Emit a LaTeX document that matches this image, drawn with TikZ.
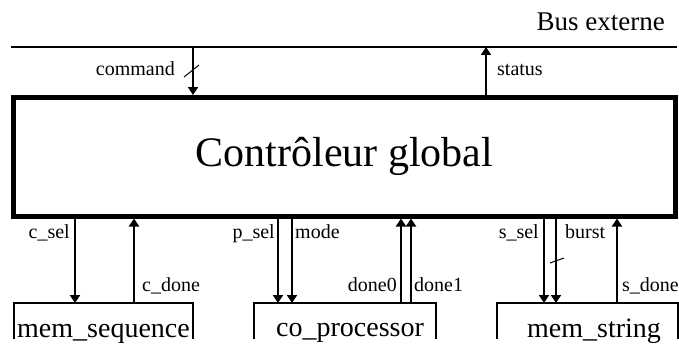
\documentclass[tikz,border=0pt]{standalone}
\usepackage{fontspec}
\setmainfont{Liberation Serif}
\usetikzlibrary{arrows.meta}

\begin{document}
\begin{tikzpicture}[x=1pt,y=-1pt,>={Triangle[length=8pt,width=10pt]},
    sig/.style={->,line width=2pt},
    lbl/.style={inner sep=0pt,font=\fontsize{20}{22}\selectfont},
    unit/.style={inner sep=0pt,outer sep=0pt,minimum height=36pt},
    unitlbl/.style={inner sep=0pt,anchor=base,font=\fontsize{28}{30}\selectfont},
    frame/.style={line width=2pt}]
    \useasboundingbox (0,0) rectangle (679,345);
    % external bus and global controller
    \coordinate (busL) at (11,47); \coordinate (busR) at (677,47);
    \draw[frame] (busL) -- (busR);
    \node[inner sep=0pt,anchor=base east,font=\fontsize{27}{30}\selectfont] (bus) at (665,31) {Bus externe};
    \node[draw,line width=5pt,inner sep=0pt,minimum width=662pt,minimum height=118.5pt,
          font=\fontsize{42}{44}\selectfont] (ctrl) at (344.5,156.75) {Contrôleur global};
    \coordinate (cmd) at (193,47); \coordinate (stat) at (486,47);
    \draw[sig] (cmd) -- (cmd |- ctrl.north);
    \draw[sig] (stat |- ctrl.north) -- (stat);
    \draw[line width=1pt] (184,77) -- (199,65);
    \node[lbl,anchor=base east] (cmdl) at (175,75) {command};
    \node[lbl,anchor=base west] (statl) at (497,75) {status};
    % units below
    \node[unit,minimum width=179pt] (seq) at (103.5,321) {};
    \node[unit,minimum width=182pt] (cop) at (345,321) {};
    \node[unit,minimum width=181pt] (str) at (587.5,321) {};
    \foreach \u in {seq,cop,str}
        \draw[frame] (\u.south west) -- (\u.north west) -- (\u.north east) -- (\u.south east);
    \node[unitlbl] (seqt) at (103.5,337) {mem\_sequence};
    \node[unitlbl] (copt) at (350,336) {co\_processor};
    \node[unitlbl] (strt) at (594,337) {mem\_string};
    % mem_sequence signals
    \draw[sig] (ctrl.south -| 75,0) -- (seq.north -| 75,0);
    \draw[sig] (seq.north -| 134,0) -- (ctrl.south -| 134,0);
    \node[lbl,anchor=base east] (csel) at (70,238) {c\_sel};
    \node[lbl,anchor=base west] (cdone) at (142,291) {c\_done};
    % co_processor signals
    \draw[sig] (ctrl.south -| 278,0) -- (cop.north -| 278,0);
    \draw[sig] (ctrl.south -| 292,0) -- (cop.north -| 292,0);
    \draw[sig] (cop.north -| 401,0) -- (ctrl.south -| 401,0);
    \draw[sig] (cop.north -| 411,0) -- (ctrl.south -| 411,0);
    \node[lbl,anchor=base east] (psel) at (275,238) {p\_sel};
    \node[lbl,anchor=base west] (mode) at (295,238) {mode};
    \node[lbl,anchor=base east] (done0) at (397,291) {done0};
    \node[lbl,anchor=base west] (done1) at (414,291) {done1};
    % mem_string signals
    \draw[sig] (ctrl.south -| 544,0) -- (str.north -| 544,0);
    \draw[sig] (ctrl.south -| 556,0) -- (str.north -| 556,0);
    \draw[sig] (str.north -| 617,0) -- (ctrl.south -| 617,0);
    \draw[line width=1pt] (550,263) -- (564,258);
    \node[lbl,anchor=base east] (ssel) at (539,238) {s\_sel};
    \node[lbl,anchor=base west] (burst) at (565,238) {burst};
    \node[lbl,anchor=base west] (sdone) at (622,291) {s\_done};
\end{tikzpicture}
\end{document}
